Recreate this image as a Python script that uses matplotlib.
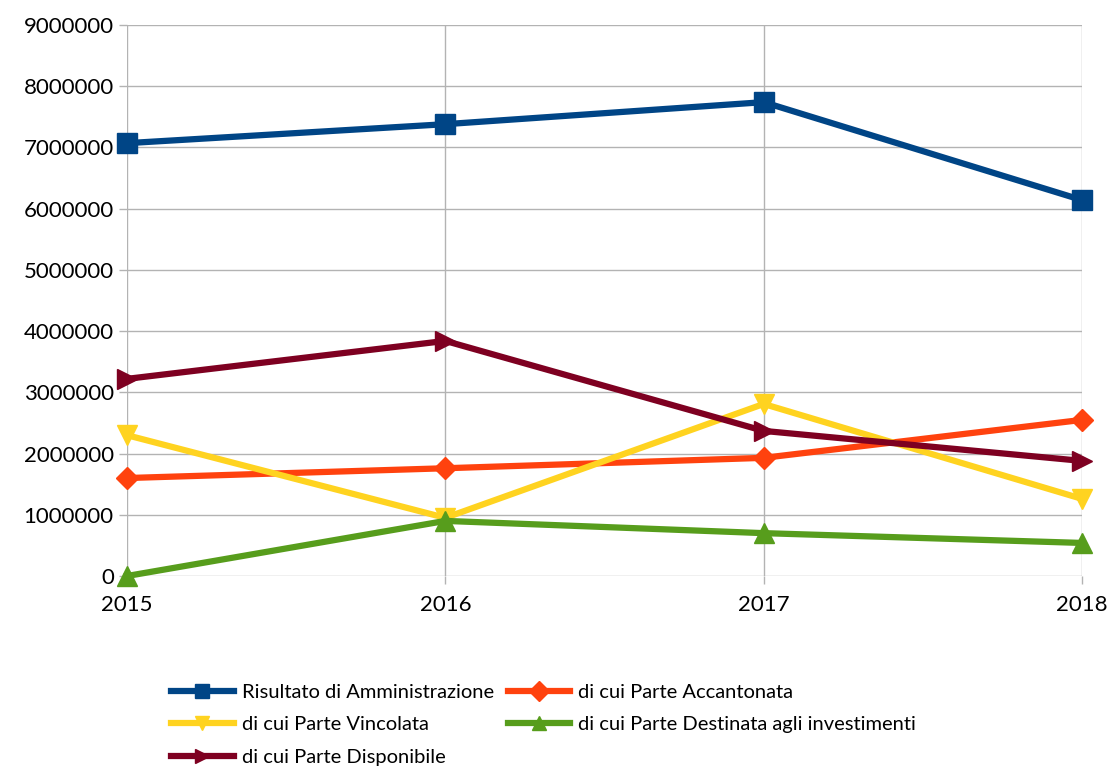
import matplotlib
matplotlib.use("Agg")
import matplotlib.pyplot as plt

years = [2015, 2016, 2017, 2018]
risultato = [7070000, 7380000, 7740000, 6140000]
accantonata = [1600000, 1760000, 1930000, 2550000]
vincolata = [2300000, 950000, 2810000, 1260000]
destinata = [0, 900000, 700000, 540000]
disponibile = [3220000, 3840000, 2370000, 1880000]

labels = ["Risultato di Amministrazione", "di cui Parte Accantonata",
          "di cui Parte Vincolata", "di cui Parte Destinata agli investimenti",
          "di cui Parte Disponibile"]
colors = ["#004586", "#ff420e", "#ffd320", "#579d1c", "#7e0021"]
markers = ["s", "D", "v", "^", ">"]
msizes = [15, 11, 15, 15, 15]

plt.rcParams['font.family'] = ['Lato', 'DejaVu Sans']
fig = plt.figure(figsize=(11.09, 7.69), dpi=100)
ax = fig.add_axes([127/1109, 1-576/769, (1082-127)/1109, (576-25)/769])

series = [risultato, accantonata, vincolata, destinata, disponibile]
for s, lab, c, m, ms in zip(series, labels, colors, markers, msizes):
    ax.plot(years, s, color=c, lw=4.5, marker=m, markersize=ms, label=lab,
            clip_on=False, zorder=3)

ax.set_xlim(2015, 2018)
ax.set_ylim(0, 9000000)
ax.set_xticks(years)
ax.set_yticks(range(0, 9000001, 1000000))
ax.set_yticklabels([str(v) for v in range(0, 9000001, 1000000)])
ax.grid(True, color="#b3b3b3", lw=1)
for sp in ax.spines.values():
    sp.set_visible(False)
ax.tick_params(axis='both', colors="#b3b3b3", length=6, width=1, labelcolor="black",
               labelsize=16)
ax.tick_params(axis='x', pad=8)

h, l = ax.get_legend_handles_labels()
order = [0, 2, 4, 1, 3]
leg = fig.legend([h[i] for i in order], [l[i] for i in order], loc='upper left',
                 bbox_to_anchor=(155/1109, 1-668/769), ncol=2, frameon=False,
                 fontsize=14.5, handlelength=3.1, columnspacing=0.7,
                 labelspacing=0.75, handletextpad=0.4, borderpad=0.3)
for hd in leg.legend_handles:
    hd.set_markersize(10)

fig.savefig("out.png", dpi=100)
